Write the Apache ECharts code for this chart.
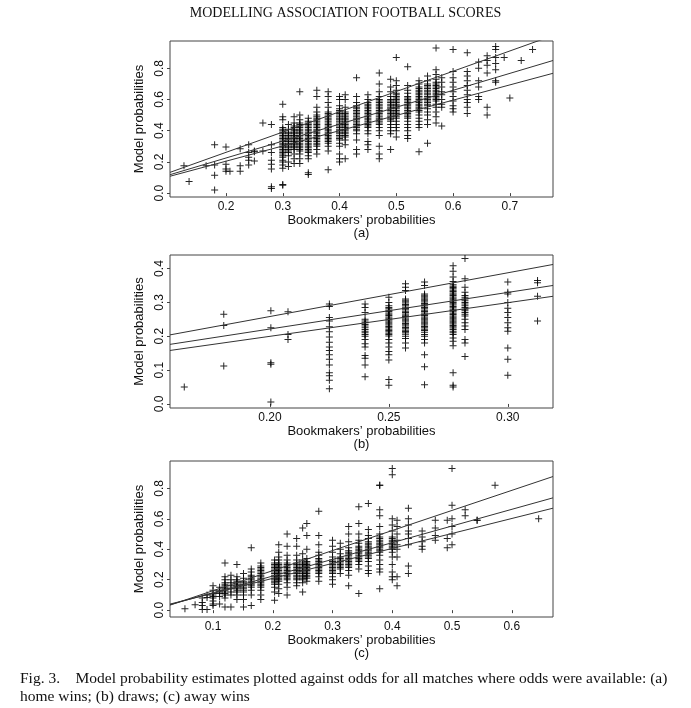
<!DOCTYPE html>
<html>
<head>
<meta charset="utf-8">
<script src="https://cdn.jsdelivr.net/npm/echarts@6/dist/echarts.min.js"></script>
<style>
html,body{margin:0;padding:0;background:#fff;}
#chart{width:691px;height:708px;}
</style>
</head>
<body>
<div id="chart"></div>
<script>
// ---------- DATA ----------
const pageTitle = "MODELLING ASSOCIATION FOOTBALL SCORES";
const captionLine1 = "Fig. 3.    Model probability estimates plotted against odds for all matches where odds were available: (a)";
const captionLine2 = "home wins; (b) draws; (c) away wins";
const xName = "Bookmakers\u2019 probabilities";
const yName = "Model probabilities";
const panelTags = ["(a)", "(b)", "(c)"];

// (a) home wins: column x positions and model probabilities in each column
const homeColX = [0.126,0.135,0.165,0.18,0.2,0.207,0.225,0.24,0.25,0.265,0.28,0.30,0.31,0.32,0.33,0.345,0.36,0.38,0.40,0.41,0.43,0.45,0.47,0.49,0.50,0.52,0.54,0.555,0.57,0.58,0.60,0.625,0.645,0.66,0.675,0.69,0.70,0.72,0.74];
const homeColY = [
 [0.175],[0.075],[0.175],[0.31,0.18,0.115,0.02],[0.295,0.185,0.155,0.14],[0.14],[0.285,0.175,0.14],
 [0.31,0.26,0.23,0.21,0.18],[0.27,0.265,0.205],[0.45,0.27],[0.44,0.31,0.26,0.21,0.185,0.155,0.04,0.03],
 [0.57,0.49,0.47,0.42,0.41,0.40,0.39,0.38,0.37,0.36,0.35,0.34,0.33,0.32,0.31,0.30,0.29,0.28,0.27,0.26,0.25,0.24,0.23,0.21,0.20,0.18,0.16,0.055,0.05],
 [0.44,0.41,0.39,0.38,0.37,0.36,0.35,0.34,0.33,0.32,0.31,0.30,0.29,0.28,0.27,0.26,0.24,0.20,0.17],
 [0.49,0.45,0.43,0.42,0.41,0.40,0.39,0.38,0.37,0.36,0.35,0.34,0.33,0.32,0.31,0.30,0.29,0.28,0.25,0.22,0.19],
 [0.65,0.50,0.47,0.45,0.44,0.43,0.42,0.41,0.40,0.39,0.38,0.37,0.36,0.35,0.34,0.33,0.32,0.31,0.30,0.29,0.28,0.27,0.25,0.22,0.19],
 [0.48,0.46,0.45,0.44,0.43,0.42,0.41,0.40,0.39,0.38,0.37,0.36,0.35,0.34,0.33,0.32,0.31,0.30,0.29,0.28,0.27,0.26,0.24,0.22,0.13,0.12],
 [0.66,0.62,0.55,0.52,0.50,0.49,0.48,0.47,0.46,0.45,0.44,0.43,0.42,0.41,0.40,0.39,0.38,0.37,0.36,0.35,0.34,0.33,0.32,0.31,0.30,0.28,0.25],
 [0.65,0.62,0.58,0.55,0.52,0.51,0.50,0.49,0.48,0.47,0.46,0.45,0.44,0.43,0.42,0.41,0.40,0.39,0.38,0.37,0.36,0.35,0.34,0.33,0.32,0.30,0.27,0.15],
 [0.62,0.60,0.56,0.54,0.53,0.52,0.51,0.50,0.49,0.48,0.47,0.46,0.45,0.44,0.43,0.42,0.41,0.40,0.39,0.38,0.37,0.36,0.35,0.34,0.32,0.30,0.25,0.22,0.20],
 [0.63,0.60,0.55,0.52,0.51,0.50,0.49,0.48,0.47,0.46,0.45,0.44,0.43,0.42,0.41,0.40,0.39,0.38,0.37,0.36,0.34,0.31,0.22],
 [0.74,0.62,0.58,0.56,0.55,0.54,0.53,0.52,0.51,0.50,0.49,0.48,0.47,0.46,0.45,0.44,0.43,0.42,0.41,0.40,0.38,0.34,0.28,0.25],
 [0.63,0.60,0.58,0.57,0.56,0.55,0.54,0.53,0.52,0.51,0.50,0.49,0.48,0.47,0.46,0.45,0.44,0.43,0.42,0.40,0.38,0.33,0.31,0.28],
 [0.77,0.70,0.65,0.62,0.60,0.59,0.58,0.57,0.56,0.55,0.54,0.53,0.52,0.51,0.50,0.49,0.48,0.47,0.46,0.45,0.44,0.42,0.40,0.37,0.30,0.25,0.22],
 [0.73,0.68,0.65,0.62,0.60,0.59,0.58,0.57,0.56,0.55,0.54,0.53,0.52,0.51,0.50,0.49,0.48,0.47,0.46,0.44,0.42,0.40,0.38,0.28],
 [0.87,0.72,0.69,0.66,0.64,0.63,0.62,0.61,0.60,0.59,0.58,0.57,0.56,0.55,0.54,0.53,0.52,0.51,0.50,0.49,0.48,0.46,0.44,0.42,0.40,0.36],
 [0.81,0.69,0.66,0.64,0.62,0.61,0.60,0.59,0.58,0.57,0.56,0.55,0.54,0.53,0.52,0.51,0.50,0.49,0.48,0.46,0.44,0.42,0.40,0.37,0.35],
 [0.72,0.70,0.68,0.67,0.66,0.65,0.64,0.63,0.62,0.61,0.60,0.59,0.58,0.57,0.56,0.55,0.54,0.53,0.52,0.50,0.48,0.46,0.44,0.42,0.265],
 [0.75,0.72,0.70,0.69,0.68,0.67,0.66,0.65,0.64,0.63,0.62,0.61,0.60,0.59,0.58,0.57,0.56,0.54,0.52,0.50,0.47,0.44,0.32],
 [0.93,0.79,0.76,0.73,0.71,0.70,0.69,0.68,0.67,0.66,0.65,0.64,0.63,0.62,0.61,0.60,0.59,0.57,0.55,0.52,0.49,0.45],
 [0.74,0.71,0.68,0.65,0.63,0.60,0.57,0.55,0.43],
 [0.92,0.78,0.74,0.71,0.68,0.65,0.62,0.59,0.56,0.54,0.52],
 [0.90,0.78,0.75,0.72,0.69,0.66,0.63,0.60,0.58,0.55,0.51],
 [0.84,0.80,0.72,0.68,0.62,0.60],
 [0.88,0.85,0.82,0.77,0.55,0.50],
 [0.94,0.92,0.87,0.83,0.79,0.72,0.71],
 [0.87],[0.61],[0.85],[0.92]
];

// (b) draws
const drawColX = [0.164,0.1806,0.2004,0.2076,0.225,0.24,0.25,0.257,0.265,0.277,0.282,0.30,0.3125];
const drawColY = [
 [0.05],
 [0.265,0.232,0.112],
 [0.275,0.225,0.122,0.117,0.006],
 [0.272,0.205,0.19],
 [0.295,0.288,0.255,0.245,0.228,0.213,0.198,0.182,0.168,0.158,0.145,0.132,0.115,0.092,0.083,0.07,0.045],
 [0.295,0.285,0.27,0.25,0.245,0.24,0.235,0.23,0.225,0.22,0.215,0.21,0.205,0.2,0.19,0.178,0.168,0.143,0.135,0.115,0.08],
 [0.315,0.30,0.29,0.285,0.281,0.277,0.273,0.269,0.265,0.261,0.257,0.253,0.249,0.245,0.241,0.237,0.233,0.229,0.225,0.221,0.217,0.213,0.209,0.205,0.201,0.19,0.18,0.168,0.155,0.145,0.13,0.072,0.055],
 [0.355,0.345,0.335,0.31,0.306,0.302,0.298,0.294,0.29,0.286,0.282,0.278,0.274,0.27,0.266,0.262,0.258,0.254,0.25,0.246,0.242,0.238,0.234,0.23,0.226,0.222,0.218,0.214,0.21,0.206,0.2,0.193,0.18,0.165],
 [0.36,0.35,0.325,0.321,0.317,0.313,0.309,0.305,0.301,0.297,0.293,0.289,0.285,0.281,0.277,0.273,0.269,0.265,0.261,0.257,0.253,0.249,0.245,0.241,0.237,0.233,0.229,0.225,0.221,0.217,0.212,0.205,0.2,0.19,0.18,0.145,0.11,0.057],
 [0.408,0.392,0.375,0.362,0.352,0.348,0.344,0.34,0.336,0.332,0.328,0.324,0.32,0.316,0.312,0.308,0.304,0.3,0.296,0.292,0.288,0.284,0.28,0.276,0.272,0.268,0.264,0.26,0.256,0.252,0.248,0.244,0.24,0.236,0.232,0.228,0.224,0.22,0.215,0.21,0.205,0.195,0.185,0.172,0.092,0.055,0.05],
 [0.43,0.37,0.345,0.33,0.32,0.315,0.31,0.305,0.30,0.295,0.29,0.285,0.28,0.275,0.27,0.265,0.26,0.25,0.24,0.23,0.22,0.19,0.18,0.14],
 [0.36,0.33,0.325,0.30,0.283,0.27,0.255,0.24,0.225,0.215,0.165,0.132,0.085],
 [0.365,0.358,0.318,0.245]
];

// (c) away wins
const awayColX = [0.053,0.07,0.082,0.09,0.10,0.111,0.12,0.13,0.14,0.151,0.164,0.18,0.203,0.21,0.224,0.24,0.25,0.257,0.277,0.30,0.313,0.327,0.344,0.36,0.379,0.40,0.408,0.427,0.45,0.472,0.492,0.50,0.522,0.542,0.572,0.645];
const awayColY = [
 [0.01],[0.035],[0.05,0.03,0.005,0.08],[0.1,0.083,0.005],
 [0.16,0.13,0.11,0.10,0.09,0.08,0.06,0.04,0.03],
 [0.15,0.13,0.12,0.11,0.09,0.04],
 [0.31,0.22,0.20,0.18,0.17,0.16,0.15,0.14,0.13,0.12,0.11,0.10,0.08,0.02],
 [0.23,0.20,0.18,0.16,0.14,0.12,0.10,0.02],
 [0.30,0.22,0.20,0.19,0.18,0.17,0.16,0.15,0.14,0.13,0.12,0.10,0.07],
 [0.24,0.21,0.19,0.18,0.17,0.16,0.15,0.14,0.13,0.12,0.10,0.07,0.02],
 [0.41,0.27,0.25,0.23,0.22,0.21,0.20,0.19,0.18,0.17,0.16,0.15,0.13,0.10,0.03],
 [0.31,0.29,0.28,0.27,0.26,0.25,0.24,0.23,0.22,0.21,0.20,0.19,0.18,0.17,0.16,0.15,0.13,0.10,0.07],
 [0.33,0.31,0.30,0.29,0.28,0.27,0.26,0.25,0.24,0.23,0.22,0.21,0.20,0.19,0.18,0.17,0.15,0.12,0.065],
 [0.43,0.38,0.35,0.33,0.31,0.30,0.29,0.28,0.27,0.26,0.25,0.24,0.23,0.22,0.21,0.20,0.19,0.17,0.14,0.11],
 [0.50,0.42,0.36,0.33,0.31,0.30,0.29,0.28,0.27,0.26,0.25,0.24,0.23,0.22,0.21,0.20,0.18,0.15,0.10],
 [0.47,0.42,0.36,0.33,0.31,0.30,0.29,0.28,0.27,0.26,0.25,0.24,0.23,0.22,0.21,0.20,0.18,0.16],
 [0.54,0.37,0.33,0.31,0.30,0.29,0.28,0.27,0.26,0.25,0.24,0.23,0.22,0.21,0.20,0.18,0.12],
 [0.57,0.49,0.40,0.34,0.32,0.31,0.30,0.29,0.28,0.27,0.26,0.25,0.24,0.23,0.22,0.21,0.19],
 [0.65,0.49,0.43,0.38,0.36,0.34,0.33,0.32,0.31,0.30,0.29,0.28,0.27,0.26,0.25,0.24,0.22,0.19],
 [0.46,0.42,0.38,0.35,0.33,0.32,0.31,0.30,0.29,0.28,0.27,0.26,0.25,0.24,0.22,0.20,0.17],
 [0.44,0.40,0.37,0.35,0.34,0.33,0.32,0.31,0.30,0.29,0.28,0.27,0.24],
 [0.55,0.50,0.45,0.41,0.39,0.38,0.37,0.36,0.35,0.34,0.33,0.32,0.31,0.30,0.29,0.28,0.26,0.23,0.16],
 [0.68,0.57,0.50,0.46,0.44,0.42,0.41,0.40,0.39,0.38,0.37,0.36,0.35,0.34,0.33,0.32,0.30,0.27,0.11],
 [0.70,0.53,0.49,0.47,0.45,0.44,0.43,0.42,0.41,0.40,0.39,0.38,0.37,0.36,0.35,0.34,0.32,0.29,0.26,0.24],
 [0.82,0.82,0.66,0.62,0.55,0.50,0.48,0.47,0.46,0.45,0.44,0.43,0.42,0.41,0.40,0.39,0.38,0.36,0.33,0.30,0.27,0.25,0.14],
 [0.93,0.89,0.60,0.56,0.52,0.48,0.47,0.46,0.45,0.44,0.43,0.42,0.41,0.40,0.38,0.35,0.30,0.25,0.22,0.20],
 [0.59,0.55,0.50,0.46,0.43,0.40,0.35,0.22,0.16],
 [0.67,0.60,0.56,0.52,0.50,0.47,0.43,0.29,0.24],
 [0.52,0.48,0.45,0.42,0.40],
 [0.59,0.54,0.49,0.46],
 [0.59,0.47,0.41],
 [0.93,0.69,0.60,0.55,0.50,0.43],
 [0.66,0.62],
 [0.59,0.59],
 [0.82],
 [0.60]
];

// Fitted reference lines (endpoints at plot edges): [x0, x1] and y for upper / middle / lower
const homeLineX = [0.1014, 0.776];
const homeUpper = [0.133, 1.01];
const homeMiddle = [0.118, 0.85];
const homeLower = [0.108, 0.768];

const drawLineX = [0.158, 0.319];
const drawUpper = [0.204, 0.412];
const drawMiddle = [0.176, 0.350];
const drawLower = [0.158, 0.318];

const awayLineX = [0.028, 0.669];
const awayUpper = [0.033, 0.878];
const awayMiddle = [0.036, 0.738];
const awayLower = [0.040, 0.670];

// Axis ranges and tick labels
const homeXTicks = [0.2,0.3,0.4,0.5,0.6,0.7];
const homeYTicks = [0.0,0.2,0.4,0.6,0.8];
const drawXTicks = [0.20,0.25,0.30];
const drawYTicks = [0.0,0.1,0.2,0.3,0.4];
const awayXTicks = [0.1,0.2,0.3,0.4,0.5,0.6];
const awayYTicks = [0.0,0.2,0.4,0.6,0.8];

const homeXRange = [0.1014, 0.776], homeYRange = [-0.025, 0.975];
const drawXRange = [0.158, 0.319], drawYRange = [-0.012, 0.44];
const awayXRange = [0.028, 0.669], awayYRange = [-0.045, 0.98];

// ---------- BUILD ----------
function pts(colX, colY) {
  const out = [];
  colX.forEach((x, i) => colY[i].forEach(y => out.push([x, y])));
  return out;
}
const plus = 'path://M3,0H4V7H3Z M0,3H7V4H0Z';
const ink = '#000';
const labelFont = 'Liberation Sans, Arial, sans-serif';

const panels = [
  {top: 41, height: 156, xr: homeXRange, yr: homeYRange, xt: homeXTicks, yt: homeYTicks, xd: 1, pts: pts(homeColX, homeColY), lx: homeLineX, lines: [homeUpper, homeMiddle, homeLower]},
  {top: 255, height: 153, xr: drawXRange, yr: drawYRange, xt: drawXTicks, yt: drawYTicks, xd: 2, pts: pts(drawColX, drawColY), lx: drawLineX, lines: [drawUpper, drawMiddle, drawLower]},
  {top: 461, height: 156, xr: awayXRange, yr: awayYRange, xt: awayXTicks, yt: awayYTicks, xd: 1, pts: pts(awayColX, awayColY), lx: awayLineX, lines: [awayUpper, awayMiddle, awayLower]}
];

const grid = [], xAxis = [], yAxis = [], series = [];
panels.forEach((p, i) => {
  grid.push({left: 170, width: 383, top: p.top, height: p.height, show: true, borderColor: '#444', borderWidth: 1, backgroundColor: 'transparent'});
  xAxis.push({
    type: 'value', gridIndex: i, min: p.xr[0], max: p.xr[1],
    splitLine: {show: false}, axisLine: {show: false},
    axisTick: {show: true, customValues: p.xt, length: 3, lineStyle: {color: '#444'}},
    axisLabel: {customValues: p.xt, formatter: v => v.toFixed(p.xd), color: '#111', fontFamily: labelFont, fontSize: 12, margin: 4},
    name: xName + '\n' + panelTags[i], nameLocation: 'middle', nameGap: 17,
    nameTextStyle: {color: '#111', fontFamily: labelFont, fontSize: 13, lineHeight: 13, verticalAlign: 'top'}
  });
  yAxis.push({
    type: 'value', gridIndex: i, min: p.yr[0], max: p.yr[1],
    splitLine: {show: false}, axisLine: {show: false},
    axisTick: {show: true, customValues: p.yt, length: 3, lineStyle: {color: '#444'}},
    axisLabel: {customValues: p.yt, formatter: v => v.toFixed(1), rotate: 90, color: '#111', fontFamily: labelFont, fontSize: 12, margin: 4},
    name: yName, nameLocation: 'middle', nameGap: 22, nameRotate: 90,
    nameTextStyle: {color: '#111', fontFamily: labelFont, fontSize: 13}
  });
  series.push({
    type: 'scatter', xAxisIndex: i, yAxisIndex: i, data: p.pts,
    symbol: plus, symbolSize: 7, itemStyle: {color: ink, opacity: 0.85}, silent: true
  });
  p.lines.forEach(ly => {
    series.push({
      type: 'line', xAxisIndex: i, yAxisIndex: i, clip: true, symbol: 'none',
      data: [[p.lx[0], ly[0]], [p.lx[1], ly[1]]],
      lineStyle: {color: '#333', width: 1}, silent: true
    });
  });
});

const chart = echarts.init(document.getElementById('chart'), null, {renderer: 'canvas'});
chart.setOption({
  animation: false,
  backgroundColor: '#fff',
  grid, xAxis, yAxis, series,
  graphic: [
    {type: 'text', left: 'center', top: 6, style: {text: pageTitle, font: '14px "Liberation Serif", "Times New Roman", serif', fill: '#111'}},
    {type: 'text', left: 20, top: 671, style: {text: captionLine1, font: '15.5px "Liberation Serif", "Times New Roman", serif', fill: '#111'}},
    {type: 'text', left: 20, top: 689, style: {text: captionLine2, font: '15.5px "Liberation Serif", "Times New Roman", serif', fill: '#111'}}
  ]
});
</script>
</body>
</html>
